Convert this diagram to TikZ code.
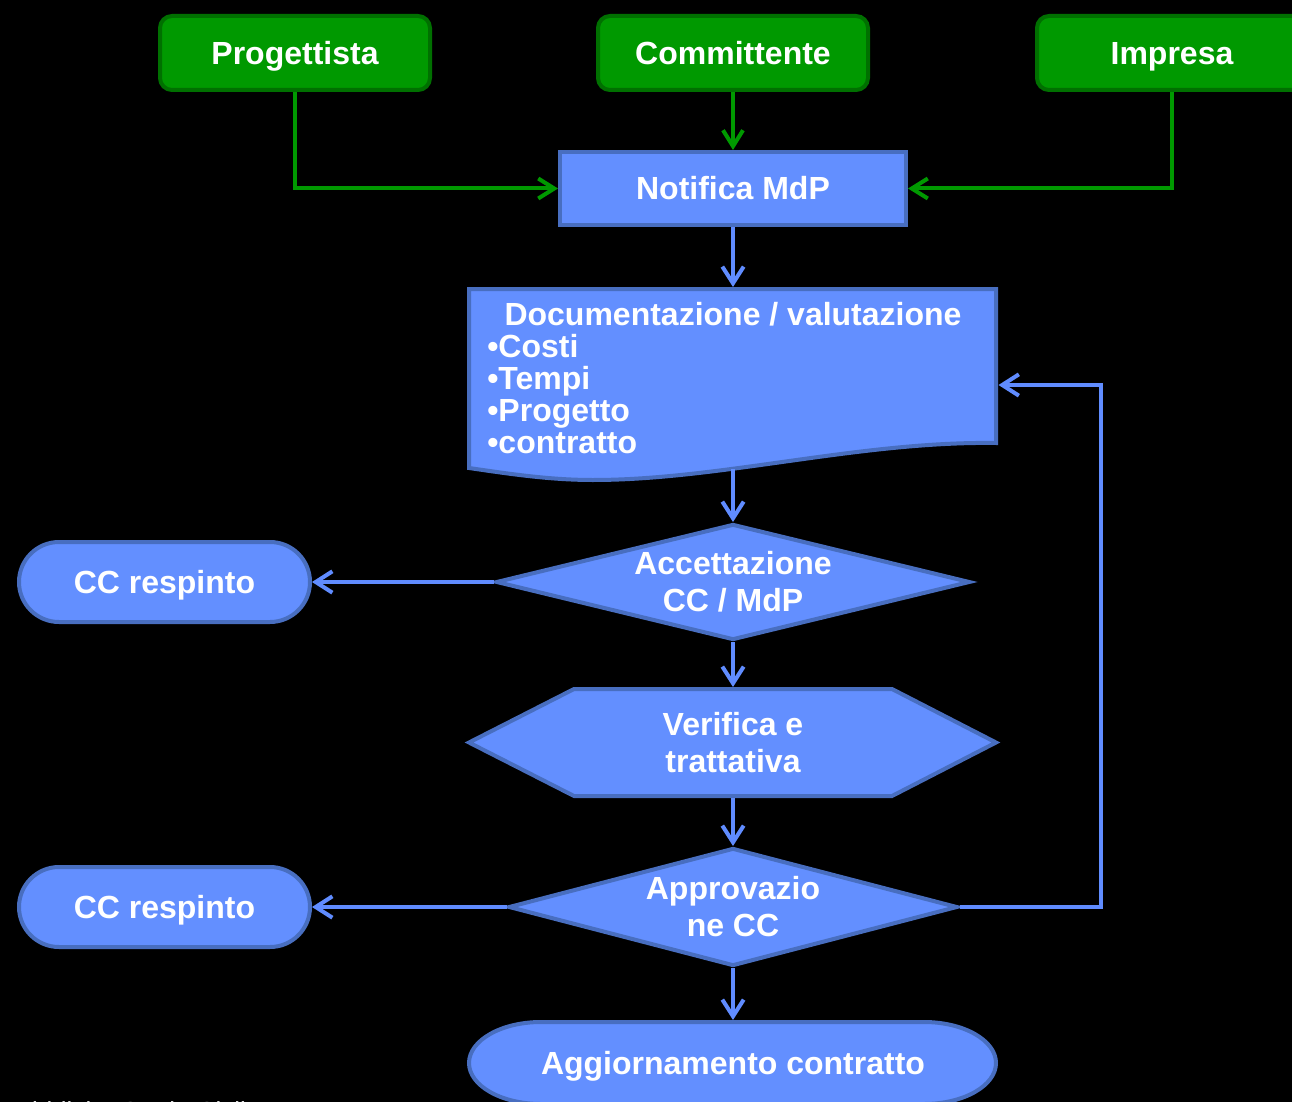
\documentclass[tikz,border=0pt]{standalone}
\usepackage{fontspec}
\setmainfont{Liberation Sans}
\usetikzlibrary{shapes.geometric,arrows.meta,calc}

\definecolor{grfill}{RGB}{0,153,0}
\definecolor{grline}{RGB}{0,112,0}
\definecolor{blfill}{RGB}{99,143,255}
\definecolor{blline}{RGB}{72,110,192}
\definecolor{blarrow}{RGB}{96,140,255}

\tikzset{
  lbl/.style={text=white, font=\bfseries\fontsize{24}{27.75}\selectfont},
  oneline/.style={text height=17.2pt, text depth=0pt},
  actor/.style={lbl, oneline, draw=grline, fill=grfill, line width=3pt,
    rounded corners=9pt, minimum width=202.5pt, minimum height=55.5pt},
  procbox/.style={lbl, oneline, draw=blline, fill=blfill, line width=3pt,
    minimum width=259.5pt, minimum height=54.75pt},
  blshape/.style={draw=blline, fill=blfill, line width=3pt, line join=miter},
  decision/.style={lbl, align=center, diamond, draw=blline, fill=blfill,
    line width=3pt, inner sep=0pt, aspect=3.8},
  terminal/.style={lbl, oneline, draw=blline, fill=blfill, line width=3pt,
    rounded corners=30pt, minimum width=218.25pt, minimum height=60pt},
  anchorbox/.style={lbl, inner sep=0pt, outer sep=0pt},
  garr/.style={draw=grfill, line width=3pt,
    -{Straight Barb[length=12pt,width=15pt]}},
  barr/.style={draw=blarrow, line width=3pt,
    -{Straight Barb[length=12.5pt,width=16pt]}},
}

\begin{document}
\begin{tikzpicture}[x=0.75pt,y=-0.75pt]
\useasboundingbox (0,0) rectangle (1292,1102);
\fill[black] (0,0) rectangle (1292,1102);

% actors
\node[actor] (prog) at (295,53) {Progettista};
\node[actor] (comm) at (733,53) {Committente};
\node[actor] (impr) at (1172,53) {Impresa};

% notification
\node[procbox] (notif) at (733,188.5) {Notifica MdP};

% document shape with wavy bottom
\draw[blshape] (469,289) -- (996,289) -- (996,443)
  .. controls (860,441) and (720,480) .. (593,480)
  .. controls (550,480) and (510,474) .. (469,468) -- cycle;
\node[anchorbox, minimum width=398.25pt, minimum height=136.5pt] (doc) at (733,378) {};
\node[lbl, anchor=base, inner sep=0pt] (doctitle) at (733,325) {Documentazione / valutazione};
\node[lbl, anchor=base west, inner sep=0pt] (docA) at (487,357) {•Costi};
\node[lbl, anchor=base west, inner sep=0pt] (docB) at (487,389) {•Tempi};
\node[lbl, anchor=base west, inner sep=0pt] (docC) at (487,421) {•Progetto};
\node[lbl, anchor=base west, inner sep=0pt] (docD) at (487,453) {•contratto};

% first decision
\node[decision, minimum width=355.5pt, minimum height=87pt] (acc) at (733,582) {Accettazione\\CC / MdP};
\node[terminal] (resp1) at (164.5,582) {CC respinto};

% negotiation hexagon
\draw[blshape] (469,742.5) -- (574,689) -- (892,689) -- (996,742.5)
  -- (892,796) -- (574,796) -- cycle;
\node[anchorbox, align=center, minimum width=398.25pt, minimum height=83.25pt] (verif) at (733,742.5) {Verifica e\\trattativa};

% second decision
\node[decision, minimum width=336.75pt, minimum height=88.5pt] (appr) at (733,907) {Approvazio\\ne CC};
\node[terminal] (resp2) at (164.5,907) {CC respinto};

% final terminal with elliptical ends
\draw[blshape] (541,1022) -- (924,1022)
  arc[start angle=90, end angle=-90, x radius=54pt, y radius=30.75pt]
  -- (541,1104)
  arc[start angle=-90, end angle=-270, x radius=54pt, y radius=30.75pt] -- cycle;
\node[anchorbox, oneline, minimum width=398.25pt, minimum height=64.5pt] (aggi) at (733,1063) {Aggiornamento contratto};

% footer, running off the lower edge
\node[anchor=base west, inner sep=0pt, text=white, font=\fontsize{19.5}{22}\selectfont] (foot) at (0,1120) {Pubblici – Genio Civile};

% green connectors
\coordinate (loop) at (1101,907);
\draw[garr] (prog.south) |- (notif.west);
\draw[garr] (comm.south) -- (notif.north);
\draw[garr] (impr.south) |- (notif.east);

% blue connectors
\draw[barr] (notif.south) -- (doc.north);
\draw[barr] (doc.south) -- (acc.north);
\draw[barr] (acc.west) -- (resp1.east);
\draw[barr] (acc.south) -- (verif.north);
\draw[barr] (verif.south) -- (appr.north);
\draw[barr] (appr.west) -- (resp2.east);
\draw[barr] (appr.east) -- (loop) |- ([yshift=-5.25pt]doc.east);
\draw[barr] (appr.south) -- (aggi.north);
\end{tikzpicture}
\end{document}
